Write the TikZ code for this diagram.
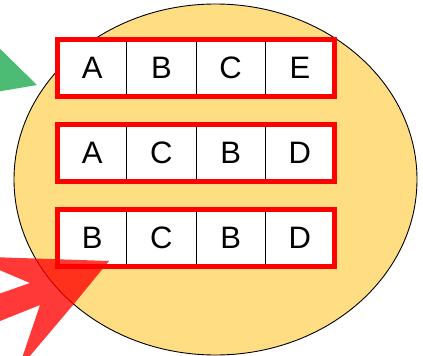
\documentclass[tikz,border=0pt]{standalone}
\usepackage{fontspec}
\setmainfont{Liberation Sans}
\begin{document}
\begin{tikzpicture}[x=1pt,y=-1pt,
  cellbox/.style={draw=black,line width=0.8pt,fill=white,minimum width=69.25pt,minimum height=57.5pt,inner sep=0pt,outer sep=0pt,font=\fontsize{31}{31}\selectfont},
  rowframe/.style={draw=red,line width=5pt},
  blob/.style={ellipse,draw=black,line width=0.9pt,fill=blobfill}]
\definecolor{blobfill}{RGB}{255,222,131}
\definecolor{tri}{RGB}{76,187,115}
\useasboundingbox (0,0) rectangle (423,356);
\clip (0,0) rectangle (423,356);
% big ellipse
\fill[blobfill] (215.5,179.5) ellipse [x radius=201.5, y radius=175.5];
\draw[line width=0.9pt] (215.5,179.5) ellipse [x radius=201.5, y radius=175.5];
% green triangle
\fill[tri] (-10,39) -- (37,85) -- (-10,93) -- cycle;
% rows of cells
\foreach \r/\y/\la/\lb/\lc/\ld in {1/68/A/B/C/E, 2/153/A/C/B/D, 3/237.8/B/C/B/D}{
  \node[cellbox] (c\r a) at (92.1,\y) {\la};
  \node[cellbox,anchor=west] (c\r b) at (c\r a.east) {\lb};
  \node[cellbox,anchor=west] (c\r c) at (c\r b.east) {\lc};
  \node[cellbox,anchor=west] (c\r d) at (c\r c.east) {\ld};
  \draw[rowframe] (c\r a.north west) rectangle (c\r d.south east);
}
% red star-arrow
\fill[red,opacity=0.78] (-10,257) -- (109,261) -- (73,305) -- (18,370) -- (40,305) -- (-10,325)
  -- (-10,297) -- (30,283) -- (-10,266) -- cycle;
\end{tikzpicture}
\end{document}
